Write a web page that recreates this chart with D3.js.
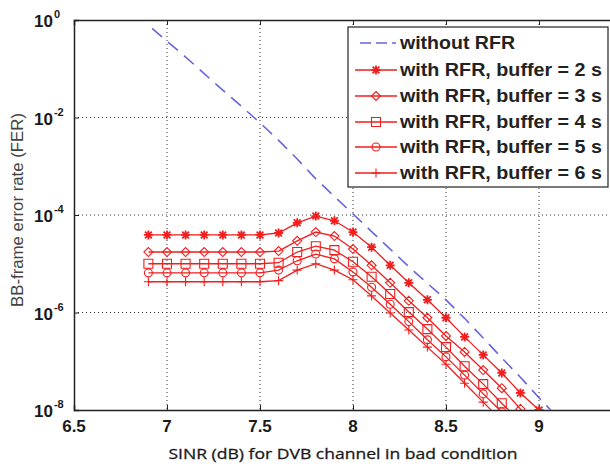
<!DOCTYPE html>
<html>
<head>
<meta charset="utf-8">
<script src="https://cdn.jsdelivr.net/npm/d3@7"></script>
<style>
  html, body { margin: 0; padding: 0; background: #fff; overflow: hidden; }
  svg { display: block; }
</style>
</head>
<body>
<svg id="chart" width="610" height="468"></svg>
<script>
// ---------------- DATA ----------------
const xTickValues = [6.5, 7, 7.5, 8, 8.5, 9, 9.5];
const xTickLabels = ["6.5", "7", "7.5", "8", "8.5", "9", ""];
const yTickValues = [1, 1e-2, 1e-4, 1e-6, 1e-8];
const yTickExponents = ["0", "-2", "-4", "-6", "-8"];

const noRfrX = [6.92, 6.98, 7.1, 7.2, 7.3, 7.4, 7.5, 7.6, 7.7, 7.8, 7.9, 8.0, 8.1, 8.2, 8.3, 8.4, 8.5, 8.6, 8.7, 8.8, 8.9, 9.0, 9.1];
const noRfrY = [0.676, 0.427, 0.174, 0.0794, 0.0363, 0.0170, 7.76e-3, 3.39e-3, 1.41e-3, 5.5e-4, 2.4e-4, 1.05e-4, 4.57e-5, 2.0e-5, 8.7e-6, 3.98e-6, 1.82e-6, 7.6e-7, 3.0e-7, 1.17e-7, 4.7e-8, 1.78e-8, 7.1e-9];

const rfrX = [6.9, 7.0, 7.1, 7.2, 7.3, 7.4, 7.5, 7.6, 7.7, 7.8, 7.9, 8.0, 8.1, 8.2, 8.3, 8.4, 8.5, 8.6, 8.7, 8.8, 8.9, 9.0];
const buf2 = [3.9e-5, 3.9e-5, 3.9e-5, 3.9e-5, 3.9e-5, 3.9e-5, 3.9e-5, 4.27e-5, 6.9e-5, 9.5e-5, 7.6e-5, 4.47e-5, 2.19e-5, 9.3e-6, 4.07e-6, 1.82e-6, 7.8e-7, 3.16e-7, 1.35e-7, 5.75e-8, 2.24e-8, 1.0e-8];
const buf3 = [1.74e-5, 1.74e-5, 1.74e-5, 1.74e-5, 1.74e-5, 1.74e-5, 1.74e-5, 1.82e-5, 2.95e-5, 4.47e-5, 3.7e-5, 2.0e-5, 9.3e-6, 4.07e-6, 1.74e-6, 7.8e-7, 3.3e-7, 1.55e-7, 6.6e-8, 2.8e-8, 1.05e-8, 4.5e-9];
const buf4 = [1.0e-5, 1.0e-5, 1.0e-5, 1.0e-5, 1.0e-5, 1.0e-5, 1.0e-5, 1.05e-5, 1.74e-5, 2.29e-5, 1.9e-5, 1.1e-5, 5.4e-6, 2.4e-6, 1.02e-6, 4.57e-7, 1.95e-7, 7.9e-8, 3.4e-8, 1.38e-8, 5.75e-9];
const buf5 = [6.5e-6, 6.5e-6, 6.5e-6, 6.5e-6, 6.5e-6, 6.5e-6, 6.5e-6, 7.4e-6, 1.15e-5, 1.58e-5, 1.26e-5, 6.8e-6, 3.3e-6, 1.48e-6, 6.5e-7, 2.75e-7, 1.23e-7, 5.2e-8, 2.14e-8, 9.1e-9];
const buf6 = [4.27e-6, 4.27e-6, 4.27e-6, 4.27e-6, 4.27e-6, 4.27e-6, 4.27e-6, 4.5e-6, 7.4e-6, 1.0e-5, 7.4e-6, 4.7e-6, 2.19e-6, 9.8e-7, 4.37e-7, 1.95e-7, 8.7e-8, 3.55e-8, 1.45e-8, 6.0e-9];

const legendLabels = ["without RFR", "with RFR, buffer = 2 s", "with RFR, buffer = 3 s", "with RFR, buffer = 4 s", "with RFR, buffer = 5 s", "with RFR, buffer = 6 s"];
const rfrSeries = [buf2, buf3, buf4, buf5, buf6];
const rfrMarkers = ["asterisk", "diamond", "square", "circle", "plus"];

const xLabel = "SINR (dB) for DVB channel in bad condition";
const yLabel = "BB-frame error rate (FER)";

// ---------------- LAYOUT ----------------
const svg = d3.select("#chart");
const L = 74, T = 20, R = 632, B = 410;
const x = d3.scaleLinear().domain([6.5, 9.5]).range([L, R]);
const y = d3.scaleLog().domain([1e-8, 1]).range([B, T]);

const red = "#f21d1d";
const blue = "#6666dd";

svg.append("defs").append("clipPath").attr("id", "plotclip")
  .append("rect").attr("x", L).attr("y", T).attr("width", R - L).attr("height", B - T);

// grid
const grid = svg.append("g");
grid.selectAll("line.gx").data(xTickValues.filter(v => v > 6.5 && v < 9.5)).enter().append("line")
  .attr("x1", d => x(d)).attr("x2", d => x(d)).attr("y1", T).attr("y2", B)
  .attr("stroke", "#333").attr("stroke-width", 1).attr("stroke-dasharray", "1,3");
grid.selectAll("line.gy").data(yTickValues.filter(v => v < 1 && v > 1e-8)).enter().append("line")
  .attr("x1", L).attr("x2", R).attr("y1", d => y(d)).attr("y2", d => y(d))
  .attr("stroke", "#333").attr("stroke-width", 1).attr("stroke-dasharray", "1,3");

// axes with inward ticks
const xAxisB = d3.axisBottom(x).tickValues(xTickValues).tickSize(-5).tickFormat("");
const xAxisT = d3.axisTop(x).tickValues(xTickValues).tickSize(-5).tickFormat("");
const yAxisL = d3.axisLeft(y).tickValues(yTickValues).tickSize(-5).tickFormat("");
[svg.append("g").attr("transform", `translate(0,${B})`).call(xAxisB),
 svg.append("g").attr("transform", `translate(0,${T})`).call(xAxisT),
 svg.append("g").attr("transform", `translate(${L},0)`).call(yAxisL)].forEach(g => {
  g.selectAll("path.domain").attr("stroke", "#222").attr("stroke-width", 1.5);
  g.selectAll(".tick line").attr("stroke", "#222");
});

// x tick labels
svg.append("g").selectAll("text").data(xTickValues.map((v, i) => ({v, l: xTickLabels[i]})).filter(d => d.l)).enter()
  .append("text")
  .attr("x", d => x(d.v)).attr("y", 432)
  .attr("text-anchor", "middle")
  .attr("font-family", "Liberation Sans, Arial, sans-serif")
  .attr("font-weight", "bold").attr("font-size", 17).attr("fill", "#1a1a1a")
  .text(d => d.l);

// y tick labels
const yl = svg.append("g").selectAll("text").data(yTickValues.map((v, i) => ({v, e: yTickExponents[i]}))).enter()
  .append("text")
  .attr("x", 34).attr("y", d => y(d.v) + 7)
  .attr("font-family", "Liberation Sans, Arial, sans-serif")
  .attr("font-weight", "bold").attr("font-size", 17).attr("fill", "#1a1a1a");
yl.append("tspan").text("10");
yl.append("tspan").attr("dy", -9).attr("dx", 1).attr("font-size", 11).text(d => d.e);

// axis labels
svg.append("text")
  .attr("x", 343).attr("y", 459).attr("text-anchor", "middle")
  .attr("font-family", "Open Sans, Noto Sans, sans-serif")
  .attr("font-size", 15).attr("fill", "#1a1a1a").attr("stroke", "#1a1a1a").attr("stroke-width", 0.3)
  .attr("textLength", 349).attr("lengthAdjust", "spacingAndGlyphs")
  .text(xLabel);
svg.append("text")
  .attr("transform", "translate(23,210) rotate(-90)")
  .attr("text-anchor", "middle")
  .attr("font-family", "Liberation Sans, Arial, sans-serif")
  .attr("font-size", 17).attr("fill", "#444")
  .attr("textLength", 194).attr("lengthAdjust", "spacingAndGlyphs")
  .text(yLabel);

// markers
function markerPath(type, cx, cy) {
  const r = 4.5;
  switch (type) {
    case "asterisk": {
      const d = r * 0.75;
      return `M${cx - r},${cy}L${cx + r},${cy}M${cx},${cy - r}L${cx},${cy + r}` +
             `M${cx - d},${cy - d}L${cx + d},${cy + d}M${cx - d},${cy + d}L${cx + d},${cy - d}`;
    }
    case "diamond":
      return `M${cx},${cy - r}L${cx + r},${cy}L${cx},${cy + r}L${cx - r},${cy}Z`;
    case "square":
      return `M${cx - r},${cy - r}L${cx + r},${cy - r}L${cx + r},${cy + r}L${cx - r},${cy + r}Z`;
    case "circle":
      return `M${cx - 4},${cy}A4,4 0 1,0 ${cx + 4},${cy}A4,4 0 1,0 ${cx - 4},${cy}Z`;
    case "plus":
      return `M${cx - r},${cy}L${cx + r},${cy}M${cx},${cy - r}L${cx},${cy + r}`;
  }
}

const plot = svg.append("g").attr("clip-path", "url(#plotclip)");
const line = d3.line().x(d => x(d[0])).y(d => y(d[1]));

// without RFR
plot.append("path")
  .datum(noRfrX.map((v, i) => [v, noRfrY[i]]))
  .attr("d", line).attr("fill", "none")
  .attr("stroke", blue).attr("stroke-width", 1.6).attr("stroke-dasharray", "13,8");

// with RFR
rfrSeries.forEach((vals, si) => {
  const pts = vals.map((v, i) => [rfrX[i], v]);
  plot.append("path").datum(pts).attr("d", line).attr("fill", "none")
    .attr("stroke", red).attr("stroke-width", 1.3);
  plot.append("path")
    .attr("d", pts.map(p => markerPath(rfrMarkers[si], x(p[0]), y(p[1]))).join(""))
    .attr("fill", rfrMarkers[si] === "asterisk" ? red : "none")
    .attr("stroke", red).attr("stroke-width", rfrMarkers[si] === "asterisk" ? 1.8 : 1.1);
});

// legend
const lg = svg.append("g");
lg.append("rect").attr("x", 348).attr("y", 27).attr("width", 260).attr("height", 160)
  .attr("fill", "#fff").attr("stroke", "#222").attr("stroke-width", 1.2);
const rowY = [43, 70, 96, 122, 147, 173];
const legendWidths = [115, 202, 202, 202, 202, 202];
legendLabels.forEach((lab, i) => {
  const cy = rowY[i];
  if (i === 0) {
    lg.append("line").attr("x1", 360).attr("x2", 396).attr("y1", cy).attr("y2", cy)
      .attr("stroke", blue).attr("stroke-width", 1.6).attr("stroke-dasharray", "11,5");
  } else {
    lg.append("line").attr("x1", 355).attr("x2", 397).attr("y1", cy).attr("y2", cy)
      .attr("stroke", red).attr("stroke-width", 1.3);
    const m = rfrMarkers[i - 1];
    lg.append("path").attr("d", markerPath(m, 376, cy))
      .attr("fill", m === "asterisk" ? red : "none")
      .attr("stroke", red).attr("stroke-width", m === "asterisk" ? 1.8 : 1.1);
  }
  lg.append("text").attr("x", 400).attr("y", cy + 6)
    .attr("font-family", "Liberation Sans, Arial, sans-serif")
    .attr("font-weight", "bold").attr("font-size", 18).attr("fill", "#222")
    .attr("textLength", legendWidths[i]).attr("lengthAdjust", "spacingAndGlyphs")
    .text(lab);
});
</script>
</body>
</html>
